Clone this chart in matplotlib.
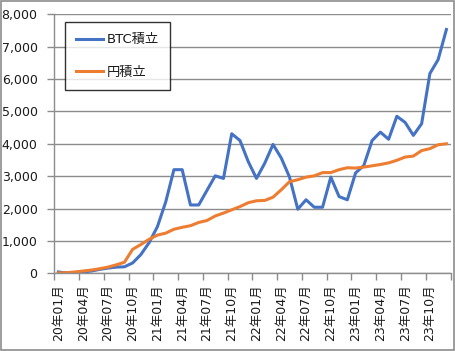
import matplotlib
matplotlib.use("Agg")
import matplotlib.pyplot as plt
from matplotlib.patches import Rectangle
from matplotlib.ticker import FuncFormatter

# ---------------------------------------------------------------------
# Data: monthly accumulated value, Jan 2020 .. Dec 2023
# ---------------------------------------------------------------------
years = [20, 21, 22, 23]
months = [f"{m:02d}" for m in range(1, 13)]
categories = [f"{y}年{m}月" for y in years for m in months]

btc_values = [
    40, 10, 20, 40, 70, 120, 160, 190, 200, 320, 580, 950,
    1440, 2200, 3200, 3200, 2110, 2110, 2560, 3010, 2930, 4310, 4100, 3450,
    2930, 3400, 3980, 3560, 2970, 1980, 2270, 2040, 2040, 2970, 2370, 2270,
    3100, 3330, 4100, 4360, 4140, 4850, 4660, 4260, 4620, 6170, 6600, 7530,
]
yen_values = [
    10, 20, 40, 70, 100, 140, 190, 260, 340, 740, 890, 1050,
    1180, 1240, 1360, 1420, 1470, 1570, 1630, 1770, 1860, 1960, 2060, 2180,
    2240, 2250, 2350, 2580, 2830, 2890, 2970, 3010, 3110, 3110, 3200, 3260,
    3250, 3280, 3320, 3360, 3410, 3490, 3590, 3620, 3790, 3850, 3970, 4000,
]
series_names = ["BTC積立", "円積立"]
series_colors = ["#4472C4", "#ED7D31"]

plt.rcParams["font.family"] = ["DejaVu Sans", "Noto Sans CJK JP"]
GRID = "#8c8c8c"
TEXT = "#1a1a1a"

fig = plt.figure(figsize=(4.56, 3.51), dpi=100)
ax = fig.add_axes([0.1189, 0.2214, 0.988 - 0.1189, 0.9593 - 0.2214])

# chart-area border
fig.patches.append(Rectangle((0.002, 0.003), 0.994, 0.994, transform=fig.transFigure,
                             fill=False, edgecolor="#8c8c8c", linewidth=1.2))

x = list(range(len(categories)))
for vals, name, col in zip([btc_values, yen_values], series_names, series_colors):
    ax.plot(x, vals, color=col, linewidth=2.2, label=name, solid_joinstyle="round")

ax.set_xlim(-0.5, len(categories) - 0.5)
ax.set_ylim(0, 8000)
ax.set_yticks(range(0, 8001, 1000))
ax.yaxis.set_major_formatter(FuncFormatter(lambda v, p: f"{int(v):,}"))
ax.grid(axis="y", color=GRID, linewidth=1.0)
ax.set_axisbelow(True)

# category labels every 3 months, tick marks between categories
ax.set_xticks(x[::3])
ax.set_xticklabels(categories[::3], rotation=90)
ax.set_xticks([i - 0.5 for i in range(0, len(categories) + 1, 3)], minor=True)
ax.tick_params(axis="x", which="major", length=0, pad=8, labelsize=9, labelcolor=TEXT)
ax.tick_params(axis="x", which="minor", length=5, color=GRID, width=1.0)
ax.tick_params(axis="y", length=5, color=GRID, width=1.0, labelsize=9, labelcolor=TEXT, pad=7)

for side in ["top", "right"]:
    ax.spines[side].set_visible(False)
for side in ["left", "bottom"]:
    ax.spines[side].set_color(GRID)
    ax.spines[side].set_linewidth(1.0)

leg = ax.legend(loc="upper left", bbox_to_anchor=(65 / 456, 1 - 22 / 351),
                bbox_transform=fig.transFigure, fontsize=9.5, frameon=True,
                fancybox=False, edgecolor="black", labelspacing=1.5,
                handlelength=2.0, handletextpad=0.3, borderpad=0.85, borderaxespad=0)
leg.get_frame().set_linewidth(1.0)
for t in leg.get_texts():
    t.set_color(TEXT)

fig.savefig("out.png", dpi=100)
